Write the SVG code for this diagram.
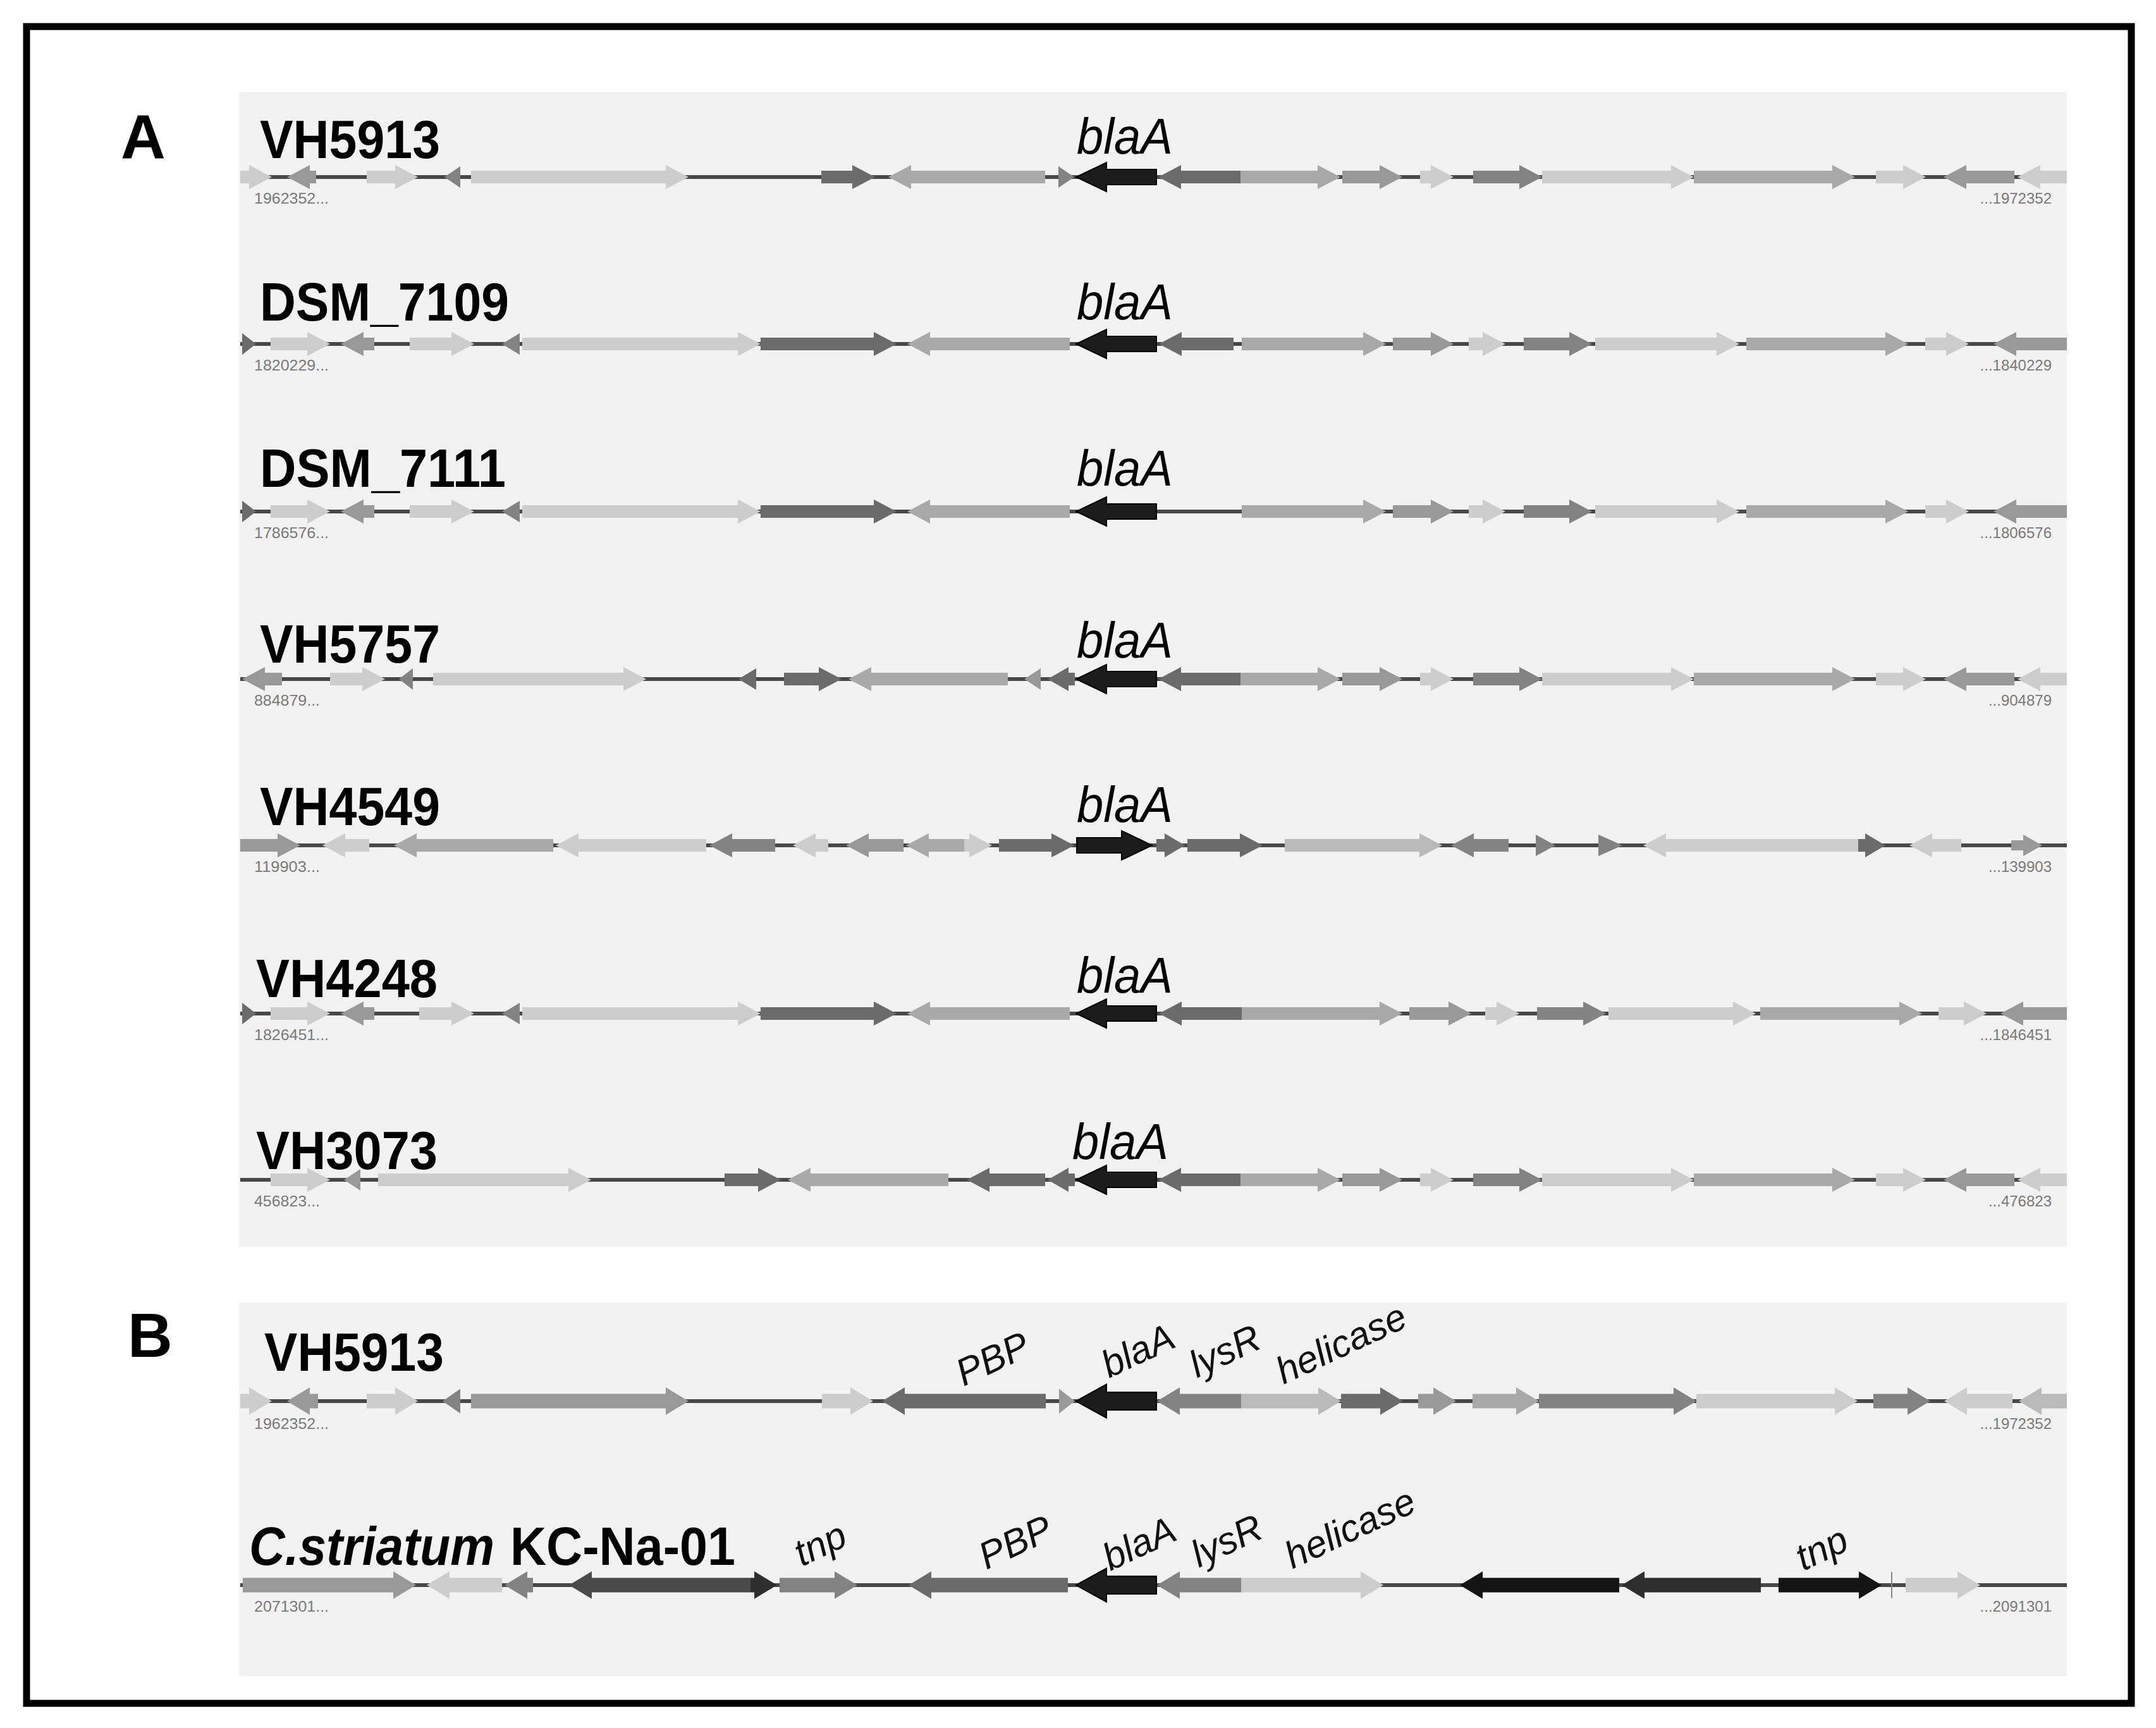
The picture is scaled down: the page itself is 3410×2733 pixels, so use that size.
<svg xmlns="http://www.w3.org/2000/svg" xmlns:xlink="http://www.w3.org/1999/xlink" width="3410" height="2733" viewBox="0 0 3410 2733">
<style>
.bg{fill:#f2f2f2}
.ln{stroke:#484848;stroke-width:6;fill:none}
.c1{fill:#cdcdcd}.c2{fill:#bababa}.c3{fill:#a9a9a9}.c4{fill:#999999}.c5{fill:#838383}.c6{fill:#6b6b6b}.c7{fill:#4a4a4a}.c8{fill:#2e2e2e}.c9{fill:#141414}
.bla{fill:#1c1c1c;stroke:#000;stroke-width:2}
.nm{font-family:"Liberation Sans",Arial,sans-serif;font-weight:bold;font-size:86px;fill:#000}
.pl{font-family:"Liberation Sans",Arial,sans-serif;font-weight:bold;font-size:98px;fill:#000}
.gn{font-family:"Liberation Sans",Arial,sans-serif;font-style:italic;font-size:80px;fill:#000}
.gb{font-family:"Liberation Sans",Arial,sans-serif;font-style:italic;font-size:60px;fill:#111}
.co{font-family:"Liberation Sans",Arial,sans-serif;font-size:24px;fill:#7a7a7a}
</style>
<defs>
<path id="blaL" class="bla" d="M1829 -12H1750V-23L1702 0L1750 23V12H1829Z"/>
<g id="tailA">
<path class="c6" d="M1962 -10H1868V-19L1832 0L1868 19V10H1962Z"/>
<path class="c3" d="M1962 -10H2084V-19L2120 0L2084 19V10H1962Z"/>
<path class="c4" d="M2123 -10H2182V-19L2218 0L2182 19V10H2123Z"/>
<path class="c1" d="M2246 -10H2263V-19L2299 0L2263 19V10H2246Z"/>
<path class="c5" d="M2330 -10H2403V-19L2439 0L2403 19V10H2330Z"/>
<path class="c1" d="M2439 -10H2643V-19L2679 0L2643 19V10H2439Z"/>
<path class="c3" d="M2679 -10H2898V-19L2934 0L2898 19V10H2679Z"/>
<path class="c1" d="M2967 -10H3010V-19L3046 0L3010 19V10H2967Z"/>
<path class="c4" d="M3186 -10H3110V-19L3074 0L3110 19V10H3186Z"/>
<path class="c1" d="M3269 -10H3227V-19L3191 0L3227 19V10H3269Z"/>
</g>
<g id="headB">
<path class="c6" d="M383 -17L405 0L383 17Z"/>
<path class="c1" d="M428 -10H486V-19L522 0L486 19V10H428Z"/>
<path class="c4" d="M592 -10H575V-19L539 0L575 19V10H592Z"/>
</g>
<g id="midB">
<path class="c5" d="M822 -17L794 0L822 17Z"/>
<path class="c1" d="M826 -10H1167V-19L1203 0L1167 19V10H826Z"/>
<path class="c6" d="M1203 -10H1382V-19L1418 0L1382 19V10H1203Z"/>
<path class="c3" d="M1692 -10H1471V-19L1435 0L1471 19V10H1692Z"/>
</g>
<g id="tailB">
<path class="c3" d="M1964 -10H2156V-19L2192 0L2156 19V10H1964Z"/>
<path class="c4" d="M2203 -10H2263V-19L2299 0L2263 19V10H2203Z"/>
<path class="c1" d="M2323 -10H2345V-19L2381 0L2345 19V10H2323Z"/>
<path class="c5" d="M2410 -10H2482V-19L2518 0L2482 19V10H2410Z"/>
<path class="c1" d="M2523 -10H2715V-19L2751 0L2715 19V10H2523Z"/>
<path class="c3" d="M2762 -10H2982V-19L3018 0L2982 19V10H2762Z"/>
<path class="c1" d="M3045 -10H3078V-19L3114 0L3078 19V10H3045Z"/>
<path class="c4" d="M3269 -10H3189V-19L3153 0L3189 19V10H3269Z"/>
</g>
</defs>
<rect width="3410" height="2733" fill="#ffffff"/>
<rect x="42" y="42" width="3329" height="2652" fill="none" stroke="#000" stroke-width="11"/>
<rect class="bg" x="378" y="145" width="2891" height="1827"/>
<rect class="bg" x="378" y="2060" width="2891" height="591"/>
<text class="pl" x="191" y="250">A</text>
<text class="pl" x="202" y="2146">B</text>

<g id="trackA1">
<text class="nm" x="411" y="250" textLength="285" lengthAdjust="spacingAndGlyphs">VH5913</text>
<text class="gn" x="1703" y="243" textLength="152" lengthAdjust="spacingAndGlyphs">blaA</text>
<g transform="translate(0,280)">
<line class="ln" x1="380" y1="0" x2="3269" y2="0"/>
<path class="c1" d="M380 -10H394V-19L430 0L394 19V10H380Z"/>
<path class="c4" d="M500 -10H490V-19L454 0L490 19V10H500Z"/>
<path class="c1" d="M580 -10H625V-19L661 0L625 19V10H580Z"/>
<path class="c5" d="M728 -17L703 0L728 17Z"/>
<path class="c1" d="M745 -10H1053V-19L1089 0L1053 19V10H745Z"/>
<path class="c6" d="M1299 -10H1348V-19L1384 0L1348 19V10H1299Z"/>
<path class="c3" d="M1653 -10H1441V-19L1405 0L1441 19V10H1653Z"/>
<path class="c5" d="M1674 -17L1699 0L1674 17Z"/>
<use xlink:href="#blaL"/>
<use xlink:href="#tailA"/>
<text class="co" x="402" y="42" textLength="118" lengthAdjust="spacingAndGlyphs">1962352...</text>
<text class="co" x="3245" y="42" text-anchor="end">...1972352</text>
</g>
</g>

<g id="trackA2">
<text class="nm" x="411" y="507" textLength="394" lengthAdjust="spacingAndGlyphs">DSM_7109</text>
<text class="gn" x="1703" y="505" textLength="152" lengthAdjust="spacingAndGlyphs">blaA</text>
<g transform="translate(0,544)">
<line class="ln" x1="380" y1="0" x2="3269" y2="0"/>
<use xlink:href="#headB"/>
<path class="c1" d="M648 -10H714V-19L750 0L714 19V10H648Z"/>
<use xlink:href="#midB"/>
<use xlink:href="#blaL"/>
<path class="c6" d="M1951 -10H1869V-19L1833 0L1869 19V10H1951Z"/>
<use xlink:href="#tailB"/>
<text class="co" x="402" y="42" textLength="118" lengthAdjust="spacingAndGlyphs">1820229...</text>
<text class="co" x="3245" y="42" text-anchor="end">...1840229</text>
</g>
</g>

<g id="trackA3">
<text class="nm" x="411" y="770" textLength="389" lengthAdjust="spacingAndGlyphs">DSM_7111</text>
<text class="gn" x="1703" y="768" textLength="152" lengthAdjust="spacingAndGlyphs">blaA</text>
<g transform="translate(0,809)">
<line class="ln" x1="380" y1="0" x2="3269" y2="0"/>
<use xlink:href="#headB"/>
<path class="c1" d="M648 -10H714V-19L750 0L714 19V10H648Z"/>
<use xlink:href="#midB"/>
<use xlink:href="#blaL"/>
<use xlink:href="#tailB"/>
<text class="co" x="402" y="42" textLength="118" lengthAdjust="spacingAndGlyphs">1786576...</text>
<text class="co" x="3245" y="42" text-anchor="end">...1806576</text>
</g>
</g>

<g id="trackA4">
<text class="nm" x="411" y="1048" textLength="285" lengthAdjust="spacingAndGlyphs">VH5757</text>
<text class="gn" x="1703" y="1040" textLength="152" lengthAdjust="spacingAndGlyphs">blaA</text>
<g transform="translate(0,1074)">
<line class="ln" x1="380" y1="0" x2="3269" y2="0"/>
<path class="c4" d="M446 -10H419V-19L383 0L419 19V10H446Z"/>
<path class="c1" d="M522 -10H573V-19L609 0L573 19V10H522Z"/>
<path class="c5" d="M653 -17L631 0L653 17Z"/>
<path class="c1" d="M685 -10H986V-19L1022 0L986 19V10H685Z"/>
<path class="c6" d="M1196 -17L1168 0L1196 17Z"/>
<path class="c6" d="M1240 -10H1295V-19L1331 0L1295 19V10H1240Z"/>
<path class="c3" d="M1594 -10H1378V-19L1342 0L1378 19V10H1594Z"/>
<path class="c4" d="M1646 -17L1620 0L1646 17Z"/>
<path class="c6" d="M1700 -10H1690V-19L1657 0L1690 19V10H1700Z"/>
<use xlink:href="#blaL"/>
<use xlink:href="#tailA"/>
<text class="co" x="402" y="42" textLength="104" lengthAdjust="spacingAndGlyphs">884879...</text>
<text class="co" x="3245" y="42" text-anchor="end">...904879</text>
</g>
</g>

<g id="trackA5">
<text class="nm" x="411" y="1305" textLength="285" lengthAdjust="spacingAndGlyphs">VH4549</text>
<text class="gn" x="1703" y="1300" textLength="152" lengthAdjust="spacingAndGlyphs">blaA</text>
<g transform="translate(0,1337)">
<line class="ln" x1="380" y1="0" x2="3269" y2="0"/>
<path class="c4" d="M380 -10H439V-19L475 0L439 19V10H380Z"/>
<path class="c1" d="M584 -10H546V-19L510 0L546 19V10H584Z"/>
<path class="c3" d="M875 -10H659V-19L623 0L659 19V10H875Z"/>
<path class="c1" d="M1117 -10H915V-19L879 0L915 19V10H1117Z"/>
<path class="c5" d="M1226 -10H1158V-19L1122 0L1158 19V10H1226Z"/>
<path class="c1" d="M1310 -10H1290V-19L1254 0L1290 19V10H1310Z"/>
<path class="c4" d="M1429 -10H1374V-19L1338 0L1374 19V10H1429Z"/>
<path class="c3" d="M1525 -10H1469V-19L1433 0L1469 19V10H1525Z"/>
<path class="c1" d="M1525 -10H1533V-19L1569 0L1533 19V10H1525Z"/>
<path class="c6" d="M1580 -10H1663V-19L1699 0L1663 19V10H1580Z"/>
<path class="bla" d="M1703 -12H1774V-23L1822 0L1774 23V12H1703Z"/>
<path class="c6" d="M1829 -10H1842V-19L1874 0L1842 19V10H1829Z"/>
<path class="c6" d="M1878 -10H1961V-19L1997 0L1961 19V10H1878Z"/>
<path class="c2" d="M2032 -10H2245V-19L2281 0L2245 19V10H2032Z"/>
<path class="c5" d="M2386 -10H2331V-19L2295 0L2331 19V10H2386Z"/>
<path class="c5" d="M2429 -17L2460 0L2429 17Z"/>
<path class="c5" d="M2528 -17L2566 0L2528 17Z"/>
<path class="c1" d="M2939 -10H2635V-19L2599 0L2635 19V10H2939Z"/>
<path class="c6" d="M2939 -10H2950V-19L2982 0L2950 19V10H2939Z"/>
<path class="c1" d="M3102 -10H3056V-19L3020 0L3056 19V10H3102Z"/>
<path class="c4" d="M3181 -8H3200V-17L3230 0L3200 17V8H3181Z"/>
<text class="co" x="402" y="42" textLength="104" lengthAdjust="spacingAndGlyphs">119903...</text>
<text class="co" x="3245" y="42" text-anchor="end">...139903</text>
</g>
</g>

<g id="trackA6">
<text class="nm" x="405" y="1577" textLength="287" lengthAdjust="spacingAndGlyphs">VH4248</text>
<text class="gn" x="1703" y="1570" textLength="152" lengthAdjust="spacingAndGlyphs">blaA</text>
<g transform="translate(0,1603)">
<line class="ln" x1="380" y1="0" x2="3269" y2="0"/>
<use xlink:href="#headB"/>
<path class="c1" d="M663 -10H714V-19L750 0L714 19V10H663Z"/>
<use xlink:href="#midB"/>
<use xlink:href="#blaL"/>
<path class="c6" d="M1964 -10H1869V-19L1833 0L1869 19V10H1964Z"/>
<path class="c3" d="M1964 -10H2182V-19L2218 0L2182 19V10H1964Z"/>
<path class="c4" d="M2229 -10H2291V-19L2327 0L2291 19V10H2229Z"/>
<path class="c1" d="M2349 -10H2367V-19L2403 0L2367 19V10H2349Z"/>
<path class="c5" d="M2431 -10H2504V-19L2540 0L2504 19V10H2431Z"/>
<path class="c1" d="M2544 -10H2741V-19L2777 0L2741 19V10H2544Z"/>
<path class="c3" d="M2784 -10H3004V-19L3040 0L3004 19V10H2784Z"/>
<path class="c1" d="M3066 -10H3106V-19L3142 0L3106 19V10H3066Z"/>
<path class="c4" d="M3269 -10H3200V-19L3164 0L3200 19V10H3269Z"/>
<text class="co" x="402" y="42" textLength="118" lengthAdjust="spacingAndGlyphs">1826451...</text>
<text class="co" x="3245" y="42" text-anchor="end">...1846451</text>
</g>
</g>

<g id="trackA7">
<text class="nm" x="405" y="1849" textLength="287" lengthAdjust="spacingAndGlyphs">VH3073</text>
<text class="gn" x="1696" y="1833" textLength="152" lengthAdjust="spacingAndGlyphs">blaA</text>
<g transform="translate(0,1866)">
<line class="ln" x1="380" y1="0" x2="3269" y2="0"/>
<path class="c1" d="M428 -10H486V-19L522 0L486 19V10H428Z"/>
<path class="c4" d="M570 -17L544 0L570 17Z"/>
<path class="c1" d="M598 -10H899V-19L935 0L899 19V10H598Z"/>
<path class="c6" d="M1146 -10H1199V-19L1235 0L1199 19V10H1146Z"/>
<path class="c3" d="M1500 -10H1282V-19L1246 0L1282 19V10H1500Z"/>
<path class="c6" d="M1653 -10H1565V-19L1529 0L1565 19V10H1653Z"/>
<path class="c6" d="M1700 -10H1690V-19L1657 0L1690 19V10H1700Z"/>
<use xlink:href="#blaL"/>
<use xlink:href="#tailA"/>
<text class="co" x="402" y="42" textLength="104" lengthAdjust="spacingAndGlyphs">456823...</text>
<text class="co" x="3245" y="42" text-anchor="end">...476823</text>
</g>
</g>

<g id="trackB1">
<text class="nm" x="418" y="2168" textLength="284" lengthAdjust="spacingAndGlyphs">VH5913</text>
<text class="gb" transform="translate(1524,2193) rotate(-25)">PBP</text>
<text class="gb" transform="translate(1754,2180) rotate(-25)">blaA</text>
<text class="gb" transform="translate(1893,2180) rotate(-25)">lysR</text>
<text class="gb" transform="translate(2030,2190) rotate(-25)">helicase</text>
<g transform="translate(0,2216)">
<line class="ln" x1="380" y1="0" x2="3269" y2="0"/>
<g transform="scale(1,1.15)">
<path class="c1" d="M380 -10H394V-19L430 0L394 19V10H380Z"/>
<path class="c4" d="M503 -10H490V-19L454 0L490 19V10H503Z"/>
<path class="c1" d="M580 -10H625V-19L661 0L625 19V10H580Z"/>
<path class="c5" d="M728 -17L700 0L728 17Z"/>
<path class="c4" d="M745 -10H1053V-19L1089 0L1053 19V10H745Z"/>
<path class="c1" d="M1300 -10H1345V-19L1381 0L1345 19V10H1300Z"/>
<path class="c6" d="M1654 -10H1431V-19L1395 0L1431 19V10H1654Z"/>
<path class="c4" d="M1675 -17L1700 0L1675 17Z"/>
<use xlink:href="#blaL"/>
<path class="c5" d="M1963 -10H1866V-19L1830 0L1866 19V10H1963Z"/>
<path class="c2" d="M1963 -10H2085V-19L2121 0L2085 19V10H1963Z"/>
<path class="c6" d="M2121 -10H2183V-19L2219 0L2183 19V10H2121Z"/>
<path class="c4" d="M2243 -10H2267V-19L2303 0L2267 19V10H2243Z"/>
<path class="c3" d="M2329 -10H2398V-19L2434 0L2398 19V10H2329Z"/>
<path class="c5" d="M2434 -10H2647V-19L2683 0L2647 19V10H2434Z"/>
<path class="c1" d="M2683 -10H2902V-19L2938 0L2902 19V10H2683Z"/>
<path class="c5" d="M2963 -10H3017V-19L3053 0L3017 19V10H2963Z"/>
<path class="c1" d="M3183 -10H3111V-19L3075 0L3111 19V10H3183Z"/>
<path class="c2" d="M3269 -10H3229V-19L3193 0L3229 19V10H3269Z"/>
</g>
<text class="co" x="402" y="44" textLength="118" lengthAdjust="spacingAndGlyphs">1962352...</text>
<text class="co" x="3245" y="44" text-anchor="end">...1972352</text>
</g>
</g>

<g id="trackB2">
<text class="nm" x="394" y="2475" font-style="italic" textLength="388" lengthAdjust="spacingAndGlyphs">C.striatum</text>
<text class="nm" x="807" y="2475" textLength="356" lengthAdjust="spacingAndGlyphs">KC-Na-01</text>
<text class="gb" transform="translate(1268,2478) rotate(-25)">tnp</text>
<text class="gb" transform="translate(1560,2483) rotate(-25)">PBP</text>
<text class="gb" transform="translate(1756,2485) rotate(-25)">blaA</text>
<text class="gb" transform="translate(1896,2480) rotate(-25)">lysR</text>
<text class="gb" transform="translate(2044,2482) rotate(-25)">helicase</text>
<text class="gb" transform="translate(2852,2485) rotate(-25)">tnp</text>
<g transform="translate(0,2507)">
<line class="ln" x1="380" y1="0" x2="3269" y2="0"/>
<g transform="scale(1,1.15)">
<path class="c4" d="M384 -10H622V-19L658 0L622 19V10H384Z"/>
<path class="c1" d="M794 -10H711V-19L675 0L711 19V10H794Z"/>
<path class="c5" d="M843 -10H834V-19L798 0L834 19V10H843Z"/>
<path class="c7" d="M1187 -10H936V-19L900 0L936 19V10H1187Z"/>
<path class="c8" d="M1187 -10H1193V-19L1229 0L1193 19V10H1187Z"/>
<path class="c5" d="M1233 -10H1320V-19L1356 0L1320 19V10H1233Z"/>
<path class="c6" d="M1689 -10H1473V-19L1437 0L1473 19V10H1689Z"/>
<use xlink:href="#blaL"/>
<path class="c5" d="M1963 -10H1866V-19L1830 0L1866 19V10H1963Z"/>
<path class="c1" d="M1963 -10H2152V-19L2188 0L2152 19V10H1963Z"/>
<path class="c9" d="M2561 -10H2345V-19L2309 0L2345 19V10H2561Z"/>
<path class="c8" d="M2785 -10H2601V-19L2565 0L2601 19V10H2785Z"/>
<path class="c9" d="M2813 -10H2940V-19L2976 0L2940 19V10H2813Z"/>
<line x1="2992" y1="-18" x2="2992" y2="18" stroke="#888" stroke-width="2"/>
<path class="c1" d="M3014 -10H3096V-19L3132 0L3096 19V10H3014Z"/>
</g>
<text class="co" x="402" y="42" textLength="118" lengthAdjust="spacingAndGlyphs">2071301...</text>
<text class="co" x="3245" y="42" text-anchor="end">...2091301</text>
</g>
</g>
</svg>
